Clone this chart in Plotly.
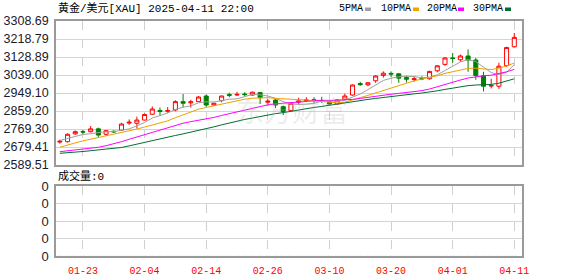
import plotly.graph_objects as go

dates = ["01-20","01-21","01-22","01-23","01-24","01-27","01-28","01-29","01-30","01-31",
         "02-03","02-04","02-05","02-06","02-07","02-10","02-11","02-12","02-13","02-14",
         "02-17","02-18","02-19","02-20","02-21","02-24","02-25","02-26","02-27","02-28",
         "03-03","03-04","03-05","03-06","03-07","03-10","03-11","03-12","03-13","03-14",
         "03-17","03-18","03-19","03-20","03-21","03-24","03-25","03-26","03-27","03-28",
         "03-31","04-01","04-02","04-03","04-04","04-07","04-08","04-09","04-10","04-11"]

open_ = [2704, 2706, 2745, 2756, 2756, 2770, 2743, 2758, 2764, 2799,
         2798, 2814, 2843, 2862, 2858, 2864, 2906, 2900, 2906, 2934,
         2889, 2911, 2941, 2939, 2944, 2939, 2951, 2903, 2914, 2881,
         2861, 2903, 2911, 2916, 2911, 2906, 2894, 2918, 2939, 2996,
         2990, 3010, 3037, 3047, 3045, 3026, 3016, 3022, 3020, 3060,
         3092, 3124, 3115, 3134, 3114, 3035, 2984, 2983, 3086, 3180]
high = [2716, 2748, 2762, 2764, 2784, 2776, 2765, 2762, 2800, 2817,
        2831, 2846, 2882, 2877, 2879, 2913, 2944, 2915, 2934, 2941,
        2900, 2936, 2951, 2955, 2953, 2956, 2954, 2918, 2918, 2886,
        2902, 2926, 2928, 2928, 2930, 2908, 2917, 2946, 2992, 3005,
        3004, 3038, 3057, 3057, 3048, 3035, 3033, 3033, 3060, 3087,
        3128, 3149, 3141, 3167, 3124, 3055, 3020, 3100, 3180, 3249]
low = [2696, 2702, 2740, 2745, 2752, 2730, 2735, 2750, 2760, 2790,
       2772, 2812, 2840, 2835, 2850, 2858, 2878, 2876, 2904, 2880,
       2886, 2903, 2928, 2935, 2933, 2936, 2894, 2885, 2874, 2839,
       2858, 2893, 2905, 2897, 2900, 2890, 2891, 2914, 2936, 2985,
       2983, 3000, 3026, 3030, 3000, 3002, 3005, 3013, 3016, 3052,
       3085, 3100, 3105, 3055, 3015, 2957, 2972, 2970, 3080, 3177]
close = [2708, 2743, 2756, 2754, 2770, 2739, 2761, 2755, 2794, 2803,
         2814, 2842, 2869, 2857, 2861, 2906, 2898, 2905, 2929, 2889,
         2898, 2934, 2938, 2942, 2941, 2953, 2926, 2908, 2889, 2856,
         2898, 2909, 2914, 2912, 2909, 2894, 2914, 2934, 2989, 2991,
         3000, 3034, 3048, 3044, 3023, 3018, 3020, 3020, 3057, 3085,
         3124, 3122, 3134, 3114, 3037, 2983, 2986, 3083, 3176, 3227]

ma5 = [2712, 2722, 2733, 2742, 2746, 2752, 2756, 2756, 2764, 2770,
       2785, 2802, 2824, 2837, 2849, 2867, 2878, 2885, 2900, 2905,
       2904, 2911, 2918, 2920, 2931, 2942, 2940, 2934, 2923, 2906,
       2895, 2892, 2893, 2898, 2908, 2908, 2909, 2913, 2928, 2944,
       2966, 2990, 3012, 3023, 3030, 3033, 3031, 3025, 3028, 3040,
       3061, 3082, 3104, 3116, 3106, 3078, 3051, 3041, 3053, 3091]
ma10 = [2678, 2690, 2700, 2710, 2718, 2726, 2735, 2745, 2752, 2758,
        2769, 2779, 2790, 2800, 2810, 2826, 2840, 2855, 2868, 2877,
        2885, 2895, 2902, 2910, 2918, 2923, 2926, 2926, 2922, 2919,
        2919, 2916, 2914, 2911, 2907, 2902, 2900, 2903, 2913, 2926,
        2937, 2949, 2963, 2976, 2987, 3000, 3010, 3019, 3026, 3035,
        3047, 3056, 3065, 3072, 3073, 3070, 3066, 3073, 3084, 3099]
ma20 = [2656, 2660, 2664, 2668, 2672, 2678, 2686, 2695, 2706, 2718,
        2730, 2742, 2754, 2766, 2778, 2788, 2798, 2806, 2812, 2818,
        2827, 2837, 2846, 2855, 2864, 2874, 2883, 2890, 2895, 2898,
        2902, 2905, 2908, 2910, 2913, 2912, 2913, 2914, 2917, 2922,
        2928, 2933, 2938, 2943, 2947, 2951, 2955, 2961, 2969, 2981,
        2992, 3003, 3014, 3024, 3030, 3035, 3038, 3046, 3055, 3067]
ma30 = [2648, 2650, 2653, 2657, 2661, 2665, 2669, 2673, 2677, 2685,
        2694, 2704, 2713, 2721, 2729, 2737, 2745, 2753, 2762, 2771,
        2780, 2790, 2800, 2809, 2817, 2824, 2832, 2839, 2846, 2851,
        2858, 2864, 2870, 2877, 2882, 2888, 2895, 2901, 2908, 2912,
        2917, 2922, 2927, 2932, 2938, 2941, 2945, 2949, 2953, 2960,
        2967, 2974, 2980, 2986, 2989, 2990, 2992, 2998, 3008, 3020]
volume = [0] * len(dates)

price_ticks = [2589.51, 2679.41, 2769.30, 2859.20, 2949.10, 3039.00, 3128.89, 3218.79, 3308.69]
vol_ticks = [0, 1, 2, 3, 4]
vol_ticktext = ["0", "0", "0", "0", "0"]
x_ticks = ["01-23", "02-04", "02-14", "02-26", "03-10", "03-20", "04-01", "04-11"]

ma_names = ["5PMA", "10PMA", "20PMA", "30PMA"]
ma_colors = ["#a0a0a0", "#f0a000", "#ff00ff", "#006e33"]
ma_series = [ma5, ma10, ma20, ma30]

W, H = 578, 276
ML, MR, MT, MB = 56, 56, 21, 20
PW, PH = W - ML - MR, H - MT - MB


def px_x(px):
    return (px - ML) / PW


def px_y(py):
    return (H - MB - py) / PH


fig = go.Figure()

for name, col, s in zip(ma_names, ma_colors, ma_series):
    fig.add_trace(go.Scatter(x=dates, y=s, mode="lines", name=name,
                             line=dict(color=col, width=1), hoverinfo="skip",
                             xaxis="x", yaxis="y"))

fig.add_trace(go.Candlestick(
    x=dates, open=open_, high=high, low=low, close=close,
    increasing=dict(line=dict(color="#ff0000", width=1), fillcolor="#ffffff"),
    decreasing=dict(line=dict(color="#008000", width=1), fillcolor="#008000"),
    whiskerwidth=0, xaxis="x", yaxis="y", name="K"))

fig.add_trace(go.Bar(x=dates, y=volume, marker_color="#ff0000", xaxis="x2", yaxis="y2",
                     hoverinfo="skip"))

grid_h = "#d4d4d4"
grid_v = "#d0d0d0"
frame = "#9a9a9a"
yfont = dict(family="Liberation Sans, Arial", size=12.5, color="#1a1a2a")

fig.update_layout(
    width=W, height=H,
    margin=dict(l=ML, r=MR, t=MT, b=MB, autoexpand=False),
    paper_bgcolor="white", plot_bgcolor="white",
    showlegend=False,
    boxgap=0.25,
    xaxis=dict(domain=[0, 1], type="category", range=[-0.5, 60.0], automargin=False,
               tickvals=x_ticks, showticklabels=False, ticks="",
               showgrid=True, gridcolor=grid_v, griddash="dash", gridwidth=1,
               showline=True, linecolor=frame, linewidth=1.5, mirror=True,
               rangeslider=dict(visible=False), zeroline=False, fixedrange=True),
    yaxis=dict(domain=[px_y(165), 1], range=[price_ticks[0], price_ticks[-1]],
               automargin=False,
               tickvals=price_ticks, ticktext=["%.2f" % v for v in price_ticks],
               tickfont=yfont, ticks="", ticklabelstandoff=3,
               showgrid=True, gridcolor=grid_h, gridwidth=1,
               showline=True, linecolor=frame, linewidth=1.5, mirror=True,
               zeroline=False),
    xaxis2=dict(domain=[0, 1], type="category", range=[-0.5, 60.0], anchor="y2",
                automargin=False,
                categoryorder="array", categoryarray=dates,
                tickvals=x_ticks, ticktext=x_ticks,
                ticks="", ticklabelstandoff=4,
                tickfont=dict(family="Liberation Mono, monospace", size=10, color="#ff0000"),
                showgrid=True, gridcolor=grid_v, griddash="dash", gridwidth=1,
                showline=True, linecolor=frame, linewidth=1.5, mirror=True,
                zeroline=False),
    yaxis2=dict(domain=[0, px_y(186)], range=[0, 4], anchor="x2", automargin=False,
                tickvals=vol_ticks, ticktext=vol_ticktext,
                tickfont=dict(family="Liberation Sans, Arial", size=13, color="#1a1a2a"),
                ticks="", ticklabelstandoff=3,
                showgrid=True, gridcolor=grid_h, gridwidth=1,
                showline=True, linecolor=frame, linewidth=1.5, mirror=True,
                zeroline=False),
)

title_font = dict(family="Liberation Mono, Noto Sans CJK SC", size=11, color="#000000")
annotations = [
    dict(text="东方财富", x=px_x(292), y=px_y(88), xref="paper", yref="paper",
         showarrow=False, font=dict(family="Noto Sans CJK SC", size=28,
                                    color="rgba(170,170,170,0.22)")),
    dict(text="黄金/美元[XAU] 2025-04-11 22:00", x=px_x(56), y=px_y(8),
         xref="paper", yref="paper", xanchor="left", yanchor="middle",
         showarrow=False, font=title_font),
    dict(text="成交量:0", x=px_x(56), y=px_y(176),
         xref="paper", yref="paper", xanchor="left", yanchor="middle",
         showarrow=False, font=title_font),
]
legend_text_x = [337, 379, 425, 471]
legend_mark_x = [365, 413, 458, 505]
shapes = []
for name, col, tx, mx in zip(ma_names, ma_colors, legend_text_x, legend_mark_x):
    annotations.append(dict(text=name, x=px_x(tx), y=px_y(9), xref="paper", yref="paper",
                            xanchor="left", yanchor="middle", showarrow=False,
                            font=dict(family="Liberation Mono, monospace", size=10,
                                      color="#000000")))
    shapes.append(dict(type="rect", xref="paper", yref="paper",
                       x0=px_x(mx), x1=px_x(mx + 6), y0=px_y(11), y1=px_y(7.5),
                       fillcolor=col, line=dict(width=0)))

fig.update_layout(annotations=annotations, shapes=shapes)

fig.write_html("out.html")
